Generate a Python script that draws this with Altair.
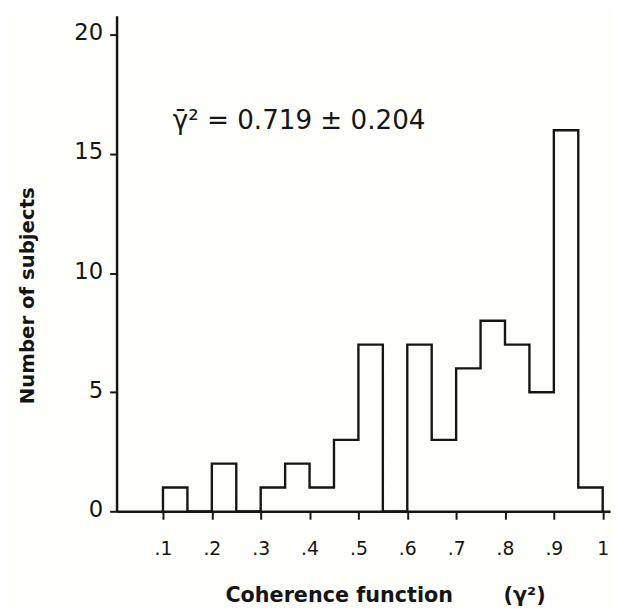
import altair as alt
import pandas as pd

# ---- data ----
bin_left = [0.10, 0.15, 0.20, 0.25, 0.30, 0.35, 0.40, 0.45, 0.50,
            0.55, 0.60, 0.65, 0.70, 0.75, 0.80, 0.85, 0.90, 0.95]
counts = [1, 0, 2, 0, 1, 2, 1, 3, 7, 0, 7, 3, 6, 8, 7, 5, 16, 1]
bin_width = 0.05

x_tick_values = [0.1, 0.2, 0.3, 0.4, 0.5, 0.6, 0.7, 0.8, 0.9, 1]
x_tick_labels = [".1", ".2", ".3", ".4", ".5", ".6", ".7", ".8", ".9", "1"]
y_tick_values = [0, 5, 10, 15, 20]

annotation_text = "\u03b3\u0304\u00b2 = 0.719 \u00b1 0.204"
annotation_x = [0.12]
annotation_y = [16.4]

# step outline of the histogram built from the bins
xs = [bin_left[0]] + bin_left + [round(bin_left[-1] + bin_width, 2)]
ys = [0] + counts + [0]
step_df = pd.DataFrame({"x": xs, "y": ys, "i": list(range(len(xs)))})
ann_df = pd.DataFrame({"x": annotation_x, "y": annotation_y, "t": [annotation_text]})

label_expr = "[" + ",".join("'" + s + "'" for s in x_tick_labels) + "][round(datum.value*10)-1]"

nb = "\u00a0"
x_title = "Coherence function" + nb * 7 + "(\u03b3\u00b2)"

x_scale = alt.Scale(domain=[0.005, 1.015], nice=False, zero=False)
y_scale = alt.Scale(domain=[0, 20.8], nice=False)

hist = alt.Chart(step_df).mark_line(
    interpolate="step-after", color="#151515", strokeWidth=2.4
).encode(
    x=alt.X("x:Q", scale=x_scale, axis=alt.Axis(
        values=x_tick_values, labelExpr=label_expr, title=x_title,
        tickSize=8, tickWidth=2, labelPadding=21, labelFontSize=19,
        titleFontSize=21, titleFontWeight="bold",
        titleX=272, titleY=85, titleAlign="center", titleBaseline="middle",
        grid=False)),
    y=alt.Y("y:Q", scale=y_scale, axis=alt.Axis(
        values=y_tick_values, title="Number of subjects",
        tickSize=7, tickWidth=2, labelPadding=7, labelFontSize=23, labelOffset=-2,
        titleFontSize=20, titleFontWeight="bold",
        titleX=-90, titleY=283, titleAlign="center", titleBaseline="middle",
        titleAngle=270, grid=False)),
    order="i:Q",
)

ann = alt.Chart(ann_df).mark_text(
    align="left", baseline="middle", fontSize=26.5, font="DejaVu Sans", color="#151515"
).encode(
    x=alt.X("x:Q", scale=x_scale),
    y=alt.Y("y:Q", scale=y_scale),
    text="t:N",
)

chart = alt.layer(hist, ann).properties(
    width=500, height=502,
    autosize=alt.AutoSizeParams(type="none"),
    padding={"left": 110, "top": 4, "right": 3, "bottom": 95},
    background="#fefefb",
).configure_view(stroke=None).configure_axis(
    domainColor="#151515", domainWidth=2.5, tickColor="#151515",
    labelColor="#151515", titleColor="#151515",
    labelFont="DejaVu Sans", titleFont="DejaVu Sans",
)

chart.save("out.html", embed_options={"renderer": "svg", "actions": False})
